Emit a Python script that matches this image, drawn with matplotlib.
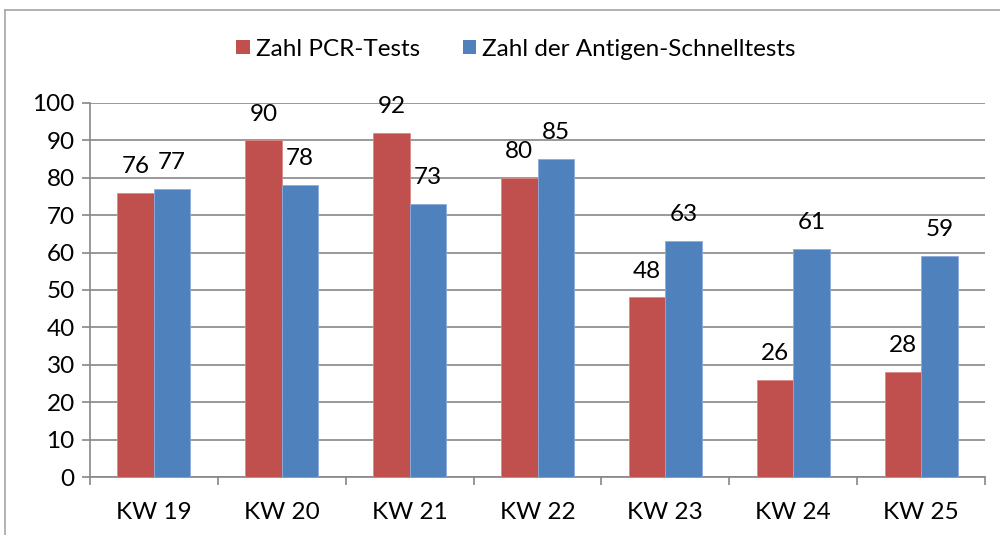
import matplotlib
matplotlib.use("Agg")
import matplotlib.pyplot as plt
import numpy as np
from matplotlib.lines import Line2D
from matplotlib.patches import Patch

categories = ["KW 19", "KW 20", "KW 21", "KW 22", "KW 23", "KW 24", "KW 25"]
pcr = [76, 90, 92, 80, 48, 26, 28]
antigen = [77, 78, 73, 85, 63, 61, 59]
series_names = ["Zahl PCR-Tests", "Zahl der Antigen-Schnelltests"]
yticks = [0, 10, 20, 30, 40, 50, 60, 70, 80, 90, 100]

RED = "#C0504D"
BLUE = "#4F81BD"
GRID = "#878787"
FONT = "Lato"
FS = 17.5

plt.rcParams['font.family'] = [FONT, 'DejaVu Sans']

fig = plt.figure(figsize=(10, 5.35), dpi=100)
ax = fig.add_axes([0.09, 0.1084, 0.895, 0.6991])

x = np.arange(len(categories))
w = 1 / 3.5
b1 = ax.bar(x - w / 2, pcr, w, color=RED, edgecolor="#D98A88", linewidth=0.6, zorder=3)
b2 = ax.bar(x + w / 2, antigen, w, color=BLUE, edgecolor="#8EAADB", linewidth=0.6, zorder=3)

for bars, vals in ((b1, pcr), (b2, antigen)):
    for r, v in zip(bars, vals):
        ax.annotate(str(v), (r.get_x() + r.get_width() / 2, v), xytext=(0, 19),
                    textcoords="offset points", ha="center", va="center",
                    fontsize=FS, color="black")

ax.set_ylim(0, 100)
ax.set_xlim(-0.5, len(categories) - 0.5)
ax.set_yticks(yticks)
ax.set_yticklabels([str(t) for t in yticks], fontsize=FS)
ax.yaxis.grid(True, color=GRID, linewidth=1.2, zorder=0)
ax.set_axisbelow(True)

ax.set_xticks(np.arange(len(categories) + 1) - 0.5)
ax.set_xticklabels([])
ax.set_xticks(x, minor=True)
ax.set_xticklabels(categories, minor=True, fontsize=FS)
ax.tick_params(axis="x", which="major", length=6, width=1.2, color=GRID, direction="out")
ax.tick_params(axis="x", which="minor", length=0, pad=18)
ax.tick_params(axis="y", length=6, width=1.2, color=GRID, direction="out", pad=5)

for s in ("top", "right"):
    ax.spines[s].set_visible(False)
for s in ("left", "bottom"):
    ax.spines[s].set_color(GRID)
    ax.spines[s].set_linewidth(1.2)

# outer chart frame (cropped)
fig.add_artist(Line2D([0.005, 1.0], [1 - 10 / 535, 1 - 10 / 535], color="#A6A6A6", linewidth=1.2))
fig.add_artist(Line2D([0.005, 0.005], [0.0, 1 - 10 / 535], color="#A6A6A6", linewidth=1.2))

handles = [Patch(facecolor=RED, edgecolor="none"), Patch(facecolor=BLUE, edgecolor="none")]
fig.legend(handles, series_names, loc="center", bbox_to_anchor=(0.516, 1 - 49 / 535), ncol=2,
           frameon=False, fontsize=FS, handlelength=0.55, handleheight=0.55, handletextpad=0.25,
           columnspacing=1.75)

fig.savefig("out.png", dpi=100)
